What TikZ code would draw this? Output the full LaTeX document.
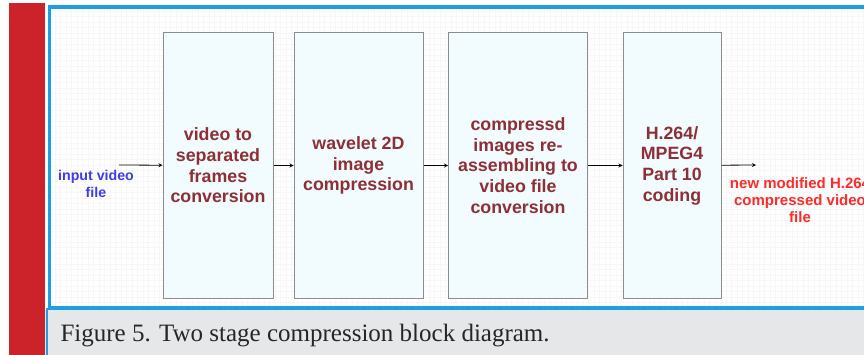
\documentclass[tikz,border=0pt]{standalone}
\usepackage{fontspec}
\setmainfont{Liberation Serif}
\setsansfont{Liberation Sans}
\usetikzlibrary{positioning}
\definecolor{barred}{HTML}{CC2229}
\definecolor{framebl}{HTML}{1E9FE3}
\definecolor{capgray}{HTML}{E6E7E9}
\definecolor{boxfill}{HTML}{F2FBFD}
\definecolor{boxtext}{HTML}{8E2F35}
\definecolor{intext}{HTML}{3C3CF0}
\definecolor{outtext}{HTML}{FF2A2A}
\begin{document}
\begin{tikzpicture}[x=1pt,y=-1pt,
    stage/.style={draw=gray!90,line width=1pt,fill=boxfill,minimum height=265pt,inner sep=0pt,
      text=boxtext,align=center,font=\sffamily\bfseries\fontsize{17.8}{20.7}\selectfont},
    io/.style={align=center,font=\sffamily\bfseries\fontsize{14.2}{17.5}\selectfont},
    flow/.style={line width=0.8pt,-stealth}]
    \useasboundingbox (0,0) rectangle (864,355);
    \fill[white] (0,0) rectangle (864,355);
    \fill[barred] (9,3) rectangle (45,355);
    \fill[capgray] (45,310) rectangle (864,355);
    \draw[framebl,line width=1.5pt] (46.8,308) -- (46.8,355);
    \draw[gray!6,step=5.5pt] (51,10) grid (864,306);
    \draw[framebl,line width=3.5pt] (49.5,7) rectangle (875,308);
    \node[stage,minimum width=110pt] (frames) at (218,165.5) {video to\\separated\\frames\\conversion};
    \node[stage,minimum width=129pt] (wavelet) at (358.5,165.5) {wavelet 2D\\image\\compression};
    \node[stage,minimum width=139pt] (reassem) at (518,165.5) {compressd\\images re-\\assembling to\\video file\\conversion};
    \node[stage,minimum width=98pt] (hcoding) at (672,165.5) {H.264/\\MPEG4\\Part 10\\coding};
    \node[io,text=intext] (input) at (96,184) {input video\\file};
    \node[io,text=outtext,font=\sffamily\bfseries\fontsize{15}{17}\selectfont] (output) at (800,200) {new modified H.264\\compressed video\\file};
    \coordinate (instart) at (119,165);
    \coordinate (outend) at (756,165);
    \draw[flow] (instart) -- (frames);
    \draw[flow] (frames) -- (wavelet);
    \draw[flow] (wavelet) -- (reassem);
    \draw[flow] (reassem) -- (hcoding);
    \draw[flow] (hcoding) -- (outend);
    \node[anchor=base west,font=\fontsize{25}{30}\selectfont,text=black!85] (caption) at (57,341) {Figure 5. Two stage compression block diagram.};
\end{tikzpicture}
\end{document}
